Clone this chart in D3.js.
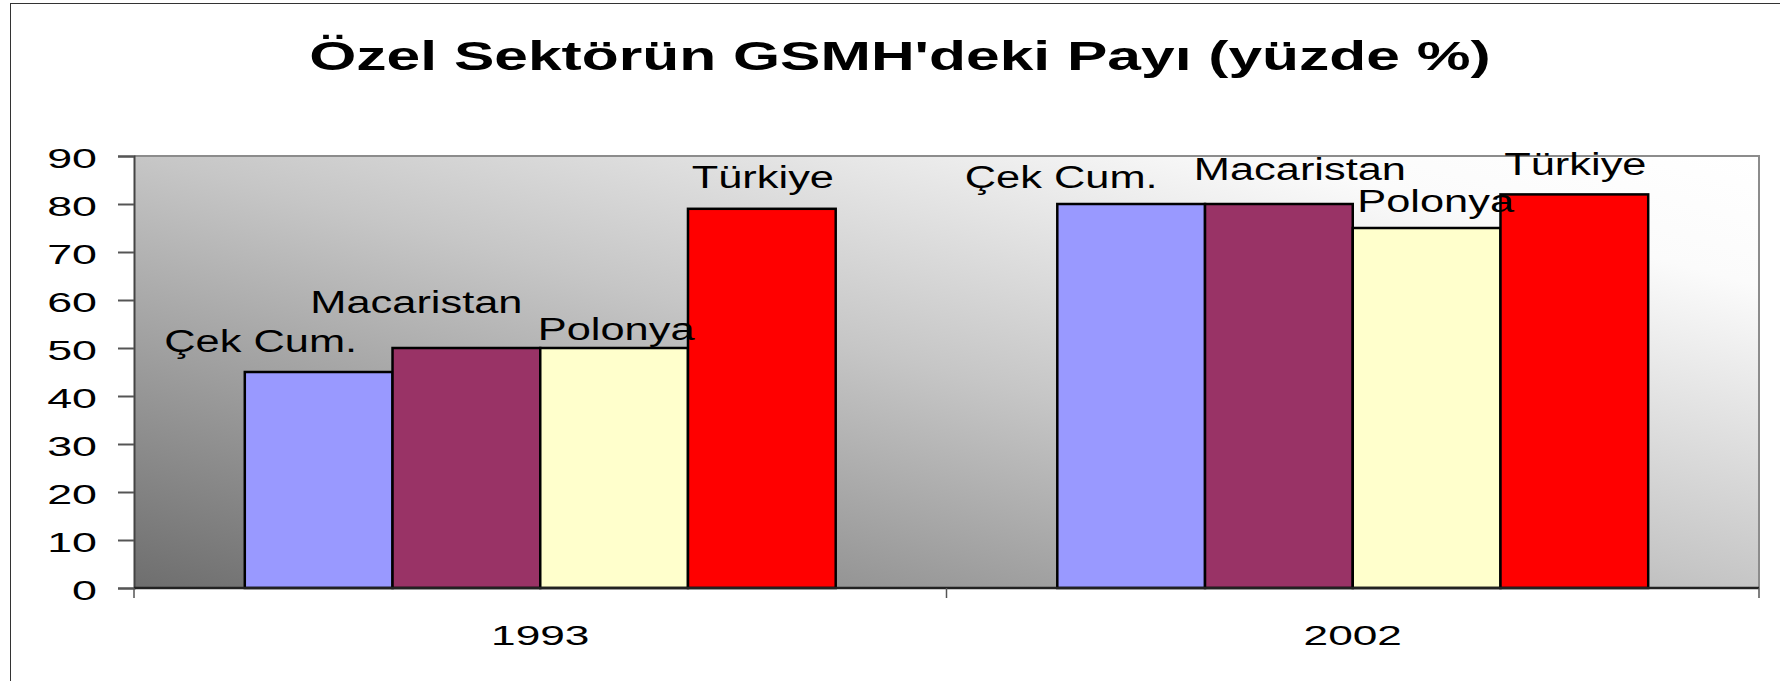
<!DOCTYPE html>
<html>
<head>
<meta charset="utf-8">
<script src="https://cdn.jsdelivr.net/npm/d3@7"></script>
<style>
  html, body { margin: 0; padding: 0; background: #fff; overflow: hidden; }
  svg { display: block; font-family: "Liberation Sans", Arial, sans-serif; }
</style>
</head>
<body>
<svg></svg>
<script>
// chart data
let title = "Özel Sektörün GSMH'deki Payı (yüzde %)";
let years = ["1993", "2002"];
let countries = ["Çek Cum.", "Macaristan", "Polonya", "Türkiye"];
let values1993 = [45, 50, 50, 79];
let values2002 = [80, 80, 75, 82];
let yTicks = [0, 10, 20, 30, 40, 50, 60, 70, 80, 90];

let colors = ["#9999ff", "#993366", "#ffffcc", "#ff0000"];

// hand placed labels in the original (offset from bar center / bar top)
let labelNudge = [
    [[-58, -20], [-50, -35], [2, -8], [1, -21]],
    [[-70, -16], [21, -24], [9, -16], [1, -19]]
];

let width = 1780;
let height = 681;
let plot = { left: 134, right: 1759, top: 156, bottom: 588 };

let svg = d3.select("svg").attr("width", width).attr("height", height);

let rows = years.map((y, i) => ({ year: y, values: i == 0 ? values1993 : values2002 }));

let xScale = d3.scaleBand().domain(years).range([plot.left, plot.right]).padding(0);
let xInner = d3.scaleBand().domain(countries).range([0, xScale.bandwidth()])
                .paddingInner(0).paddingOuter(0.75);
let yScale = d3.scaleLinear().domain([0, 90]).range([plot.bottom, plot.top]);

// stretch text horizontally, the original is widened
let stretch = (sel, sx) => {
    sel.each(function () {
        let t = d3.select(this);
        let x = +t.attr("x"), y = +t.attr("y");
        t.attr("x", 0).attr("y", 0)
         .attr("transform", "translate(" + x + "," + y + ") scale(" + sx + ",1)");
    });
}

// outer frame
svg.append("rect")
    .attr("x", 10.5).attr("y", 3.5)
    .attr("width", 1800).attr("height", 800)
    .attr("fill", "none").attr("stroke", "#333").attr("stroke-width", 1);

// title
let titleText = svg.append("text")
    .attr("x", 900).attr("y", 70)
    .attr("text-anchor", "middle")
    .attr("font-size", 41).attr("font-weight", "bold")
    .text(title);
stretch(titleText, 1182 / titleText.node().getComputedTextLength());

// plot background gradient
let defs = svg.append("defs");
let grad = defs.append("linearGradient").attr("id", "bg")
    .attr("x1", 0).attr("y1", 1).attr("x2", 1).attr("y2", 0);
grad.append("stop").attr("offset", 0).attr("stop-color", "#6e6e6e");
grad.append("stop").attr("offset", 0.5).attr("stop-color", "#c6c6c6");
grad.append("stop").attr("offset", 0.85).attr("stop-color", "#fbfbfb");
grad.append("stop").attr("offset", 1).attr("stop-color", "#ffffff");

svg.append("rect")
    .attr("x", plot.left).attr("y", plot.top)
    .attr("width", plot.right - plot.left).attr("height", plot.bottom - plot.top)
    .attr("fill", "url(#bg)");

svg.append("path")
    .attr("d", "M" + plot.left + "," + plot.top + "H" + plot.right + "V" + plot.bottom)
    .attr("fill", "none").attr("stroke", "#8c8c8c").attr("stroke-width", 2);

// bars
let groups = svg.selectAll("g.grp")
    .data(rows)
    .enter()
    .append("g")
    .attr("class", "grp")
    .attr("transform", (d) => "translate(" + xScale(d.year) + ",0)");

groups.selectAll("rect")
    .data((d) => d.values.map((v, i) => ({ country: countries[i], value: v, i: i })))
    .enter()
    .append("rect")
    .attr("x", (d) => xInner(d.country))
    .attr("y", (d) => yScale(d.value))
    .attr("width", xInner.bandwidth())
    .attr("height", (d) => yScale(0) - yScale(d.value))
    .attr("fill", (d) => colors[d.i])
    .attr("stroke", "#000")
    .attr("stroke-width", 2.5);

// axes
let yAxis = d3.axisLeft(yScale).tickValues(yTicks).tickSize(16).tickPadding(21);
let gy = svg.append("g")
    .attr("transform", "translate(" + plot.left + ",0)")
    .call(yAxis);
gy.select(".domain").attr("stroke", "#444").attr("stroke-width", 2);
gy.selectAll(".tick line").attr("stroke", "#555").attr("stroke-width", 2);
gy.selectAll(".tick text")
    .attr("font-size", 28).attr("fill", "#000")
    .attr("font-family", "Liberation Sans, Arial, sans-serif")
    .attr("dy", "0.4em");
gy.selectAll(".tick text").each(function () {
    let t = d3.select(this);
    t.attr("y", 0);
    t.attr("transform", "translate(-37,0) scale(1.6,1)").attr("x", 0);
});

let xAxis = d3.axisBottom(xScale).tickSize(0).tickPadding(0).tickFormat("");
let gx = svg.append("g")
    .attr("transform", "translate(0," + plot.bottom + ")")
    .call(xAxis);
gx.select(".domain").remove();
gx.append("line")
    .attr("x1", plot.left).attr("x2", plot.right)
    .attr("stroke", "#222").attr("stroke-width", 2.5);
gx.selectAll("line.sep")
    .data([plot.left, plot.left + xScale.step(), plot.right])
    .enter()
    .append("line")
    .attr("class", "sep")
    .attr("x1", (d) => d).attr("x2", (d) => d)
    .attr("y1", 0).attr("y2", 10)
    .attr("stroke", "#555").attr("stroke-width", 1.5);

let yearLabels = svg.selectAll("text.year")
    .data(years)
    .enter()
    .append("text")
    .attr("class", "year")
    .attr("x", (d) => xScale(d) + xScale.bandwidth() / 2)
    .attr("y", 645)
    .attr("text-anchor", "middle")
    .attr("font-size", 28)
    .text((d) => d);
stretch(yearLabels, 1.58);

// data labels (series names) drawn above all bars
let labelData = [];
rows.forEach((r, gi) => {
    r.values.forEach((v, i) => {
        labelData.push({
            text: countries[i],
            x: xScale(r.year) + xInner(countries[i]) + xInner.bandwidth() / 2 + labelNudge[gi][i][0],
            y: yScale(v) + labelNudge[gi][i][1]
        });
    });
});

let labels = svg.selectAll("text.lbl")
    .data(labelData)
    .enter()
    .append("text")
    .attr("class", "lbl")
    .attr("x", (d) => d.x)
    .attr("y", (d) => d.y)
    .attr("text-anchor", "middle")
    .attr("font-size", 31)
    .text((d) => d.text);
stretch(labels, 1.4);
</script>
</body>
</html>
